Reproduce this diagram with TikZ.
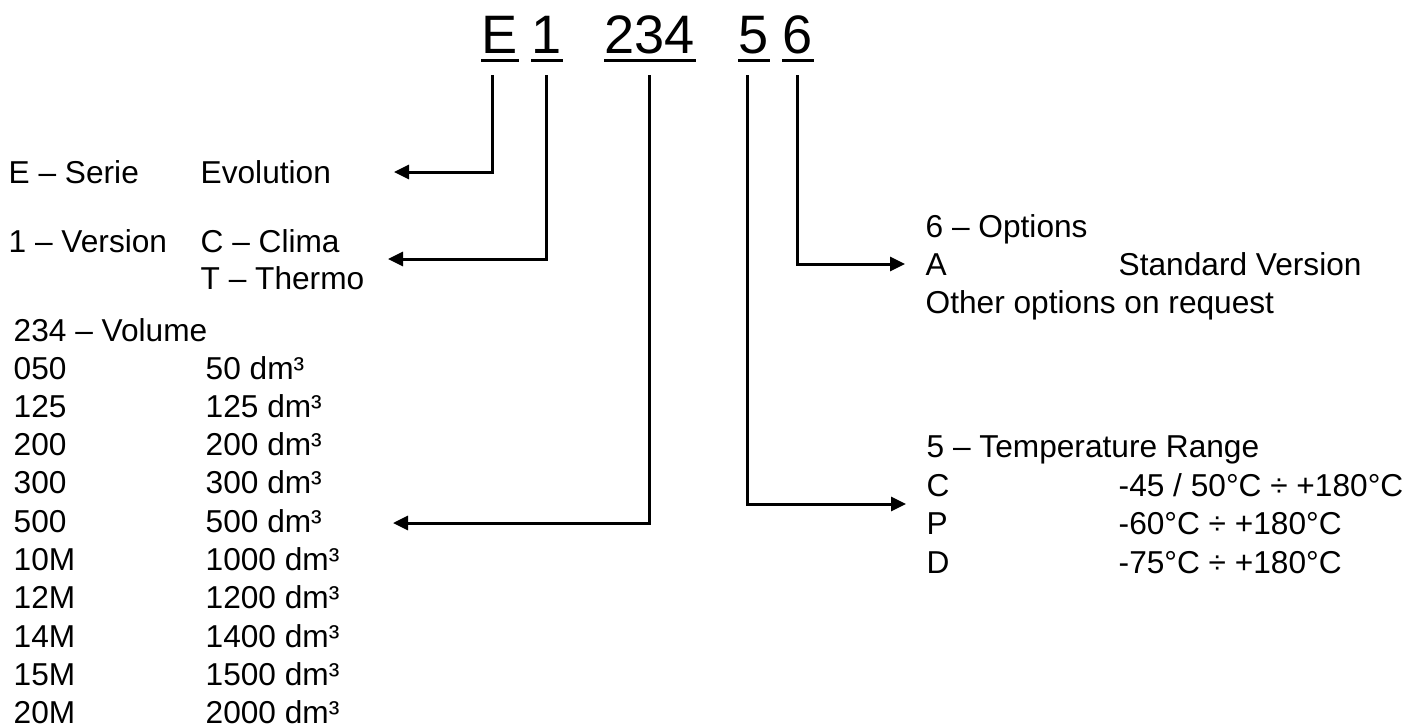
\documentclass[tikz,border=0pt]{standalone}
\usepackage{fontspec}
\setmainfont{Liberation Sans}
\usepackage{tikz}
\usetikzlibrary{arrows.meta}

\tikzset{txt/.style={anchor=base west,inner sep=0pt,font=\fontsize{9}{11}\selectfont},
  code/.style={anchor=base west,inner sep=0pt,font=\fontsize{15.4}{18}\selectfont},
  uline/.style={line width=0.03cm},
  conn/.style={line width=0.03cm,-{Triangle[length=0.15cm,width=0.14cm]}}}

\begin{document}
\begin{tikzpicture}[x=0.01cm,y=-0.01cm]
\useasboundingbox (0,0) rectangle (1421,726);
\node (codeE) at (481,53) [code] {E};
\node (codeOne) at (531,53) [code] {1};
\node (codeVol) at (604,53) [code] {234};
\node (codeTemp) at (738,53) [code] {5};
\node (codeOpt) at (782,53) [code] {6};
\foreach \n in {codeE,codeOne,codeVol,codeTemp,codeOpt}
  \draw[uline] ([yshift=-0.075cm]\n.base west) -- ([yshift=-0.075cm]\n.base east);
\node (serie) at (8,183) [txt] {E – Serie};
\node (evol) at (200,183) [txt] {Evolution};
\node (vers) at (8,252) [txt] {1 – Version};
\node (clima) at (200,252) [txt] {C – Clima};
\node (thermo) at (200,289) [txt] {T – Thermo};
\node (volume) at (13,341) [txt] {234 – Volume};
\foreach \c/\v [count=\i from 0] in {050/50,125/125,200/200,300/300,500/500,10M/1000,12M/1200,14M/1400,15M/1500,20M/2000}{
  \node (vc\i) at (13,379+38.3*\i) [txt] {\c};
  \node (vv\i) at (205,379+38.3*\i) [txt] {\v\ dm³};
}
\node (opts) at (925,237) [txt] {6 – Options};
\node (optA) at (925,275) [txt] {A};
\node (optStd) at (1118,275) [txt] {Standard Version};
\node (optOther) at (925,313) [txt] {Other options on request};
\node (temp) at (926,457) [txt] {5 – Temperature Range};
\foreach \l/\r [count=\i from 0] in {C/{-45 / 50°C ÷ +180°C},P/{-60°C ÷ +180°C},D/{-75°C ÷ +180°C}}{
  \node (tl\i) at (926,496+38.5*\i) [txt] {\l};
  \node (tr\i) at (1118,496+38.5*\i) [txt] {\r};
}
\coordinate (tipE) at (394,172);
\coordinate (tipOne) at (388,259);
\coordinate (tipVol) at (393,523);
\coordinate (tipTemp) at (906,504);
\coordinate (tipOpt) at (905,264);
\draw[conn] ([xshift=-0.07cm,yshift=-0.22cm]codeE.base) |- (tipE);
\draw[conn] ([yshift=-0.22cm]codeOne.base) |- (tipOne);
\draw[conn] ([yshift=-0.22cm]codeVol.base) |- (tipVol);
\draw[conn] ([xshift=-0.06cm,yshift=-0.22cm]codeTemp.base) |- (tipTemp);
\draw[conn] ([yshift=-0.22cm]codeOpt.base) |- (tipOpt);
\end{tikzpicture}
\end{document}
